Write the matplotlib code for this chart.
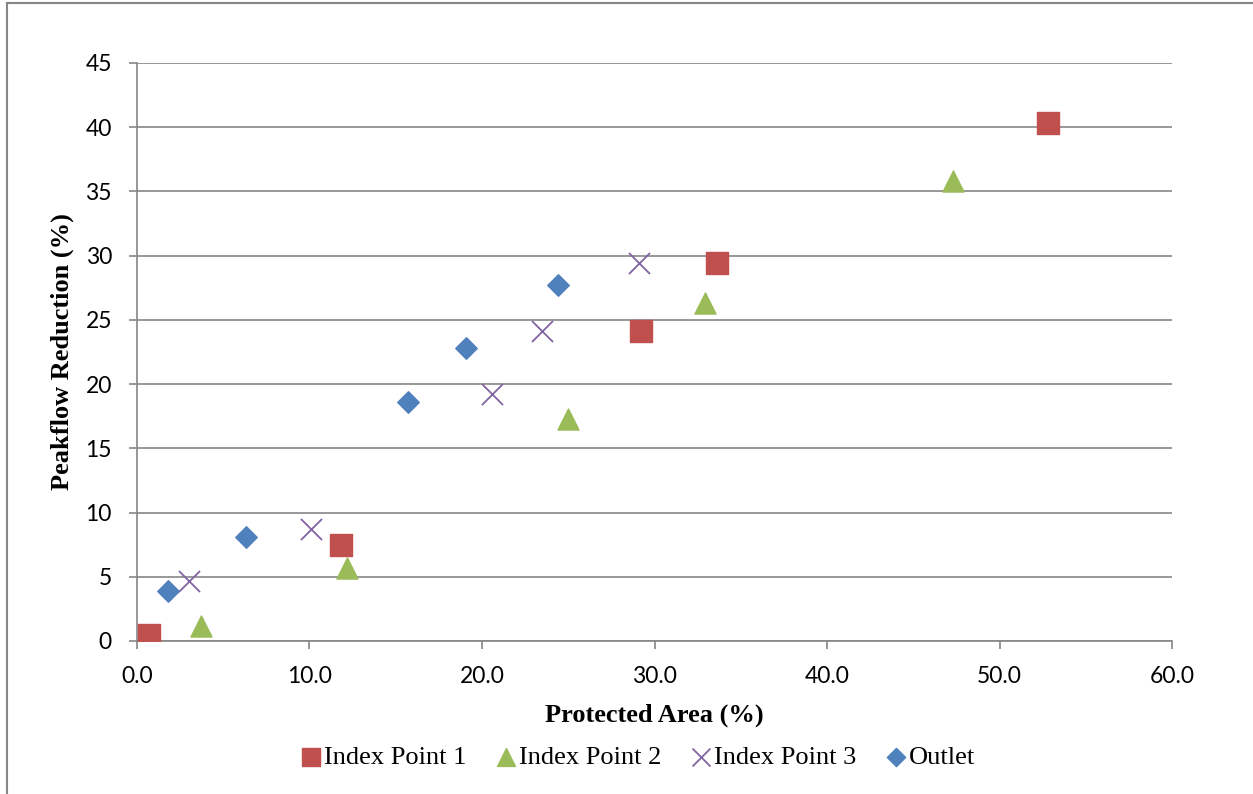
import matplotlib.pyplot as plt
from matplotlib.lines import Line2D

# Protected area (%) vs peakflow reduction (%)
ip1_x = [0.7, 11.8, 29.2, 33.6, 52.8]
ip1_y = [0.5, 7.5, 24.1, 29.4, 40.3]
ip2_x = [3.7, 12.2, 25.0, 32.9, 47.3]
ip2_y = [1.2, 5.7, 17.3, 26.3, 35.8]
ip3_x = [3.0, 10.1, 20.6, 23.5, 29.1]
ip3_y = [4.7, 8.7, 19.2, 24.1, 29.4]
out_x = [1.8, 6.3, 15.7, 19.1, 24.4]
out_y = [3.9, 8.1, 18.6, 22.8, 27.7]

xticks = [0, 10, 20, 30, 40, 50, 60]
yticks = [0, 5, 10, 15, 20, 25, 30, 35, 40, 45]

grey = "#868686"
tickfont = "Lato"
serif = "Liberation Serif"

fig = plt.figure(figsize=(12.53, 7.94), dpi=100)
ax = fig.add_axes([0.1093, 0.1927, 0.8261, 0.728])

ax.scatter(ip1_x, ip1_y, marker="s", s=230, color="#C0504D", label="Index Point 1", zorder=3)
ax.scatter(ip2_x, ip2_y, marker="^", s=230, color="#9BBB59", label="Index Point 2", zorder=3)
ax.scatter(ip3_x, ip3_y, marker="x", s=230, color="#8064A2", linewidths=1.3, label="Index Point 3", zorder=3)
ax.scatter(out_x, out_y, marker="D", s=120, color="#4F81BD", label="Outlet", zorder=3)

ax.set_xlim(0, 60)
ax.set_ylim(0, 45)
ax.set_xticks(xticks)
ax.set_yticks(yticks)
ax.set_xticklabels([f"{v:.1f}" for v in xticks], fontfamily=tickfont, fontsize=16.5)
ax.set_yticklabels([str(v) for v in yticks], fontfamily=tickfont, fontsize=16.5)

ax.grid(axis="y", color=grey, linewidth=1.2, zorder=0)
for s in ["top", "right"]:
    ax.spines[s].set_visible(False)
for s in ["left", "bottom"]:
    ax.spines[s].set_color(grey)
    ax.spines[s].set_linewidth(1.2)
ax.tick_params(colors=grey, labelcolor="black", length=6, width=1.2, pad=12)

ax.set_xlabel("Protected Area (%)", fontfamily=serif, fontweight="bold", fontsize=19, labelpad=12)
ax.set_ylabel("Peakflow Reduction (%)", fontfamily=serif, fontweight="bold", fontsize=19, labelpad=8)

fig.legend(loc="center", bbox_to_anchor=(0.508, 0.046), ncol=4, frameon=False,
           prop={"family": serif, "size": 19}, handletextpad=0.0, handlelength=1.0,
           columnspacing=1.0, markerscale=0.85)

# outer chart border (left and top visible)
fig.add_artist(Line2D([0.0056, 0.0056], [0.0, 0.996], color=grey, linewidth=1.5, transform=fig.transFigure))
fig.add_artist(Line2D([0.0056, 1.0], [0.996, 0.996], color=grey, linewidth=1.5, transform=fig.transFigure))

fig.savefig("out.png", dpi=100)
